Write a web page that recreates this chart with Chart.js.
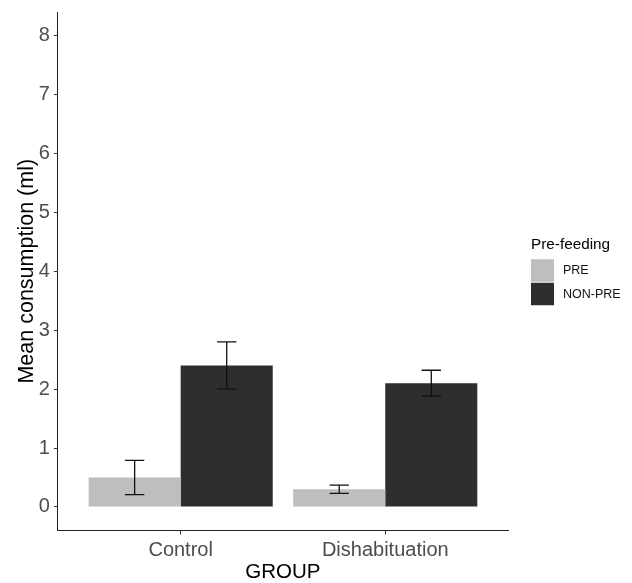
<!DOCTYPE html>
<html>
<head>
<meta charset="utf-8">
<title>Mean consumption by group</title>
<script src="https://cdn.jsdelivr.net/npm/chart.js@4.4.1/dist/chart.umd.min.js"></script>
<style>
  html, body { margin: 0; padding: 0; background: #fff; }
  #wrap { width: 632px; height: 583px; position: relative; }
</style>
</head>
<body>
<div id="wrap"><canvas id="myChart"></canvas></div>
<script>
const groups = ["Control", "Dishabituation"];
const preMeans = [0.5, 0.3];
const preErrors = [0.29, 0.07];
const nonPreMeans = [2.4, 2.1];
const nonPreErrors = [0.4, 0.22];
const yTicks = [0, 1, 2, 3, 4, 5, 6, 7, 8];

const FONT = "'Liberation Sans', Arial, sans-serif";

// groups sit at x = 1, 2 on a linear axis so the padding can match ggplot (0.6 each side)
function toPoints(values) {
  return values.map((v, i) => ({ x: i + 1, y: v }));
}

const errorBars = {
  id: "errorBars",
  afterDatasetsDraw(chart) {
    const ctx = chart.ctx;
    const yScale = chart.scales.y;
    ctx.save();
    ctx.strokeStyle = "#111";
    ctx.lineWidth = 1.3;
    chart.data.datasets.forEach((ds, d) => {
      const meta = chart.getDatasetMeta(d);
      meta.data.forEach((bar, i) => {
        const mean = ds.data[i].y;
        const err = ds.errors[i];
        const top = yScale.getPixelForValue(mean + err);
        const bottom = yScale.getPixelForValue(mean - err);
        const half = bar.width * 0.105;
        ctx.beginPath();
        ctx.moveTo(bar.x, top);
        ctx.lineTo(bar.x, bottom);
        ctx.moveTo(bar.x - half, top);
        ctx.lineTo(bar.x + half, top);
        ctx.moveTo(bar.x - half, bottom);
        ctx.lineTo(bar.x + half, bottom);
        ctx.stroke();
      });
    });
    ctx.restore();
  }
};

const sideLegend = {
  id: "sideLegend",
  afterDraw(chart) {
    const ctx = chart.ctx;
    const area = chart.chartArea;
    const cy = (area.top + area.bottom) / 2;
    const x = area.right + 23;
    ctx.save();
    ctx.textBaseline = "middle";
    ctx.textAlign = "left";
    ctx.fillStyle = "#000";
    ctx.font = "15.3px " + FONT;
    ctx.fillText("Pre-feeding", x, cy - 26.5);
    ctx.font = "12.5px " + FONT;
    chart.data.datasets.forEach((ds, i) => {
      const top = cy - 12 + i * 23.5;
      ctx.fillStyle = ds.backgroundColor;
      ctx.fillRect(x, top, 23, 22.5);
      ctx.fillStyle = "#111";
      ctx.fillText(ds.label, x + 32, top + 11.5);
    });
    ctx.restore();
  }
};

const ctx = document.getElementById("myChart").getContext("2d");

const myChart = new Chart(ctx, {
  type: "bar",
  data: {
    datasets: [
      {
        label: "PRE",
        data: toPoints(preMeans),
        errors: preErrors,
        backgroundColor: "#BEBEBE",
        borderWidth: 0,
        categoryPercentage: 0.9,
        barPercentage: 1.0,
      },
      {
        label: "NON-PRE",
        data: toPoints(nonPreMeans),
        errors: nonPreErrors,
        backgroundColor: "#2E2E2E",
        borderWidth: 0,
        categoryPercentage: 0.9,
        barPercentage: 1.0,
      },
    ],
  },
  options: {
    responsive: true,
    maintainAspectRatio: false,
    animation: false,
    layout: {
      padding: { left: 8, right: 124, top: 10, bottom: 0.75 },
    },
    plugins: {
      legend: { display: false },
      tooltip: { enabled: false },
    },
    scales: {
      x: {
        type: "linear",
        min: 0.4,
        max: 2.6,
        offset: false,
        afterBuildTicks: (scale) => {
          scale.ticks = groups.map((g, i) => ({ value: i + 1 }));
        },
        ticks: {
          callback: (value) => groups[value - 1],
          color: "#4D4D4D",
          font: { family: FONT, size: 20, lineHeight: 1 },
          padding: 5.5,
          maxRotation: 0,
          autoSkip: false,
        },
        grid: {
          display: true,
          offset: false,
          drawOnChartArea: false,
          tickLength: 4,
          tickColor: "#333",
        },
        border: { color: "#222", width: 1 },
        title: {
          display: true,
          text: "GROUP",
          color: "#000",
          font: { family: FONT, size: 20.5, lineHeight: 1 },
          padding: { top: -3.75, bottom: 0 },
        },
      },
      y: {
        min: -0.4,
        max: 8.4,
        afterBuildTicks: (scale) => {
          scale.ticks = yTicks.map((v) => ({ value: v }));
        },
        ticks: {
          color: "#4D4D4D",
          font: { family: FONT, size: 20, lineHeight: 0.8 },
          padding: 4,
        },
        grid: {
          display: true,
          drawOnChartArea: false,
          tickLength: 4,
          tickColor: "#333",
        },
        border: { color: "#222", width: 1 },
        title: {
          display: true,
          text: "Mean consumption (ml)",
          color: "#000",
          font: { family: FONT, size: 21.5, lineHeight: 1 },
          padding: { top: 8.75, bottom: -3.45 },
        },
      },
    },
  },
  plugins: [errorBars, sideLegend],
});
</script>
</body>
</html>
